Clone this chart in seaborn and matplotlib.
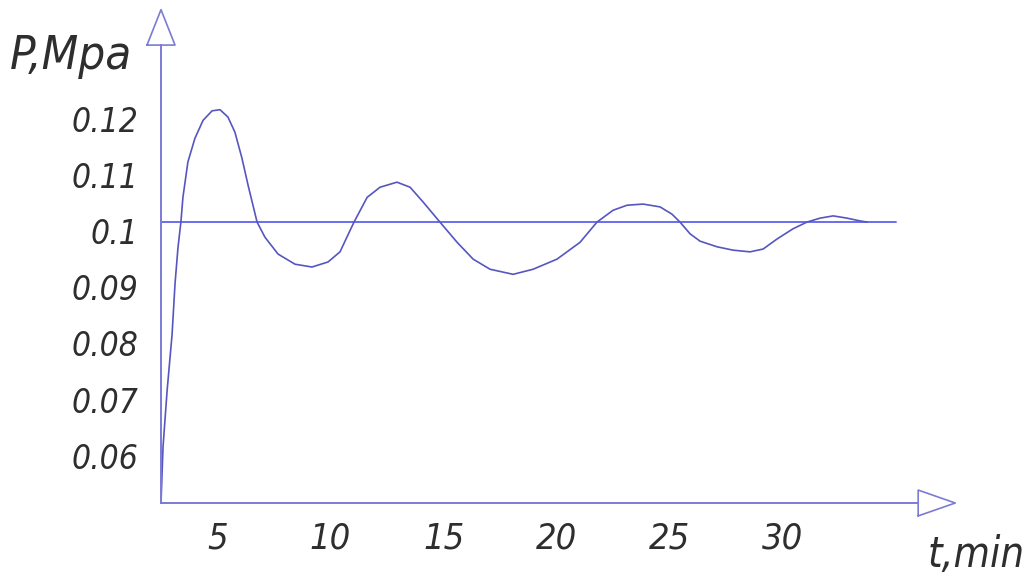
import matplotlib
matplotlib.use("Agg")
import matplotlib.pyplot as plt
import matplotlib.transforms as mtransforms
import seaborn as sns

# pressure response
t_min = [2.5, 2.59, 2.77, 2.99, 3.12, 3.25, 3.38, 3.47, 3.69, 4.00,
         4.36, 4.76, 5.11, 5.46, 5.77, 6.08, 6.35, 6.75, 7.10, 7.68,
         8.43, 9.18, 9.89, 10.42, 10.77, 11.04, 11.62, 12.19, 12.94, 13.52,
         14.09, 14.84, 15.60, 16.31, 17.06, 18.08, 18.96, 20.02, 21.04, 21.79,
         22.50, 23.12, 23.83, 24.58, 25.11, 25.46, 25.91, 26.35, 27.10, 27.81,
         28.56, 29.14, 29.76, 30.46, 31.08, 31.66, 32.24, 32.85, 33.43, 33.74]
p_mpa = [0.050, 0.060, 0.070, 0.080, 0.089, 0.0954, 0.1, 0.1044, 0.1107, 0.1149,
         0.1181, 0.1198, 0.1200, 0.1187, 0.1160, 0.1114, 0.1066, 0.1, 0.0973, 0.0943,
         0.0925, 0.0920, 0.0929, 0.0947, 0.0977, 0.1, 0.1044, 0.1062, 0.1071, 0.1062,
         0.1036, 0.1, 0.0964, 0.0934, 0.0916, 0.0907, 0.0916, 0.0934, 0.0964, 0.1,
         0.1021, 0.1030, 0.1032, 0.1027, 0.1014, 0.1, 0.0979, 0.0966, 0.0956, 0.0950,
         0.0947, 0.0952, 0.0970, 0.0988, 0.1, 0.1007, 0.1011, 0.1007, 0.1002, 0.1]
p_ref = 0.1
x_ticks = [5, 10, 15, 20, 25, 30, 35]
x_labels = ["5", "10", "15", "20", "25", "30", ""]
y_ticks = [0.06, 0.07, 0.08, 0.09, 0.1, 0.11, 0.12]
y_labels = ["0.06", "0.07", "0.08", "0.09", "0.1", "0.11", "0.12"]

sns.set_style("white")
plt.rcParams["font.family"] = ["Liberation Sans Narrow", "DejaVu Sans"]
plt.rcParams["font.style"] = "italic"
plt.rcParams["font.stretch"] = "condensed"

axis_col = "#7b7bd6"
text_col = "#2e2e2e"

fig = plt.figure(figsize=(10.29, 5.79), dpi=100)
ax = fig.add_axes([161 / 1029, 76 / 579, 799 / 1029, 495 / 579])
ax.set_xlim(2.5, 37.85)
ax.set_ylim(0.05, 0.1381)

# reference level and response curve
ax.plot([2.5, 35], [p_ref, p_ref], color="#6b6bf2", lw=1.4)
sns.lineplot(x=t_min, y=p_mpa, ax=ax, color="#5656c0", lw=1.2)

for s in ["top", "right"]:
    ax.spines[s].set_visible(False)
for s in ["left", "bottom"]:
    ax.spines[s].set_color(axis_col)
    ax.spines[s].set_linewidth(1.4)
ax.spines["bottom"].set_bounds(2.5, 36.0)
ax.spines["left"].set_bounds(0.05, 0.1315)

# arrow heads
ax.plot([36.0, 36.0, 37.64, 36.0], [0.0477, 0.0523, 0.05, 0.0477],
        color=axis_col, lw=1.2, clip_on=False)
ax.plot([1.88, 3.12, 2.5, 1.88], [0.1315, 0.1315, 0.1378, 0.1315],
        color=axis_col, lw=1.2, clip_on=False)

ax.set_xticks(x_ticks)
ax.set_xticklabels(x_labels)
ax.set_yticks(y_ticks)
ax.set_yticklabels(y_labels)
ax.tick_params(axis="both", direction="inout", length=21, width=1.1, color=axis_col,
               labelcolor=text_col, labelsize=24)
ax.tick_params(axis="x", pad=3, labelsize=26)
ax.tick_params(axis="y", pad=6)
shift = mtransforms.ScaledTranslation(0, -9 / 100, fig.dpi_scale_trans)
for lab in ax.get_yticklabels():
    lab.set_transform(lab.get_transform() + shift)

fig.text(10 / 1029, 1 - 34 / 579, "P,Mpa", fontsize=34, color=text_col, ha="left", va="top")
fig.text(1025 / 1029, 1 - 576 / 579, "t,min", fontsize=30, color=text_col, ha="right", va="bottom")

fig.savefig("out.png", dpi=100)
